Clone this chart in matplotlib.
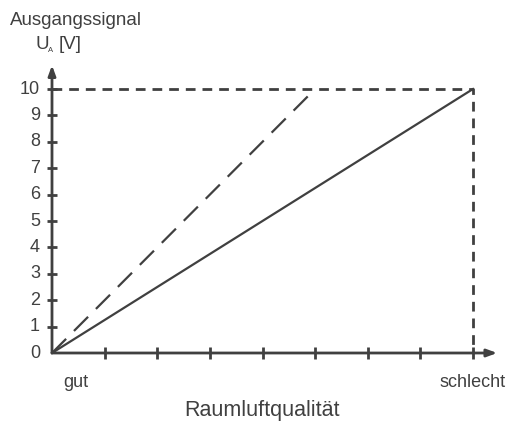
import matplotlib
matplotlib.use("Agg")
import matplotlib.pyplot as plt

plt.rcParams["font.family"] = ["Liberation Sans", "DejaVu Sans"]

# data
x_ticks = list(range(0, 9))
y_ticks = list(range(0, 11))
solid_x = [0, 8]
solid_y = [0, 10]
dashed_x = [0, 5]
dashed_y = [0, 10]
x_labels = {0.46: "gut", 8: "schlecht"}

C = "#404040"

fig = plt.figure(figsize=(5.11, 4.23), dpi=100)
ax = fig.add_axes([0, 0, 1, 1])
ax.set_xlim(-52 / 52.625, (511 - 52) / 52.625)
ax.set_ylim((353 - 423) / 26.4, 353 / 26.4)
ax.axis("off")

# axes with arrows
arrow = dict(arrowstyle="-|>,head_length=0.6,head_width=0.22",
             color=C, lw=2, shrinkA=0, shrinkB=0)
ax.annotate("", xy=(8.46, 0), xytext=(0, 0), arrowprops=arrow)
ax.annotate("", xy=(0, 10.9), xytext=(0, 0), arrowprops=arrow)

# ticks
for t in x_ticks[1:]:
    ax.plot([t, t], [-0.22, 0.22], color=C, lw=2, solid_capstyle="butt")
for t in y_ticks[1:]:
    ax.plot([-0.1, 0.1], [t, t], color=C, lw=2, solid_capstyle="butt")
for t in y_ticks:
    ax.text(-0.23, t, str(t), ha="right", va="center", fontsize=13, color=C)

# dashed frame
ax.plot([0, 8, 8], [10, 10, 0], color=C, lw=2, ls=(0, (3.5, 2.5)))

# characteristic lines
ax.plot(solid_x, solid_y, color=C, lw=1.6)
ax.plot(dashed_x, dashed_y, color=C, lw=1.6, ls=(0, (9, 5)))

for k, lab in x_labels.items():
    ax.text(k, -1.1, lab, ha="center", va="center", fontsize=13, color=C)

ax.text(4, -2.16, "Raumluftqualität", ha="center", va="center", fontsize=15.5, color=C)
ax.text(-0.8, 12.6, "Ausgangssignal", ha="left", va="center", fontsize=13.5, color=C)
ax.text(-0.32, 11.67, "U", ha="left", va="center", fontsize=13.5, color=C)
ax.text(-0.07, 11.45, "A", ha="left", va="center", fontsize=5.5, color=C)
ax.text(0.12, 11.67, "[V]", ha="left", va="center", fontsize=13.5, color=C)

fig.savefig("out.png", dpi=100)
